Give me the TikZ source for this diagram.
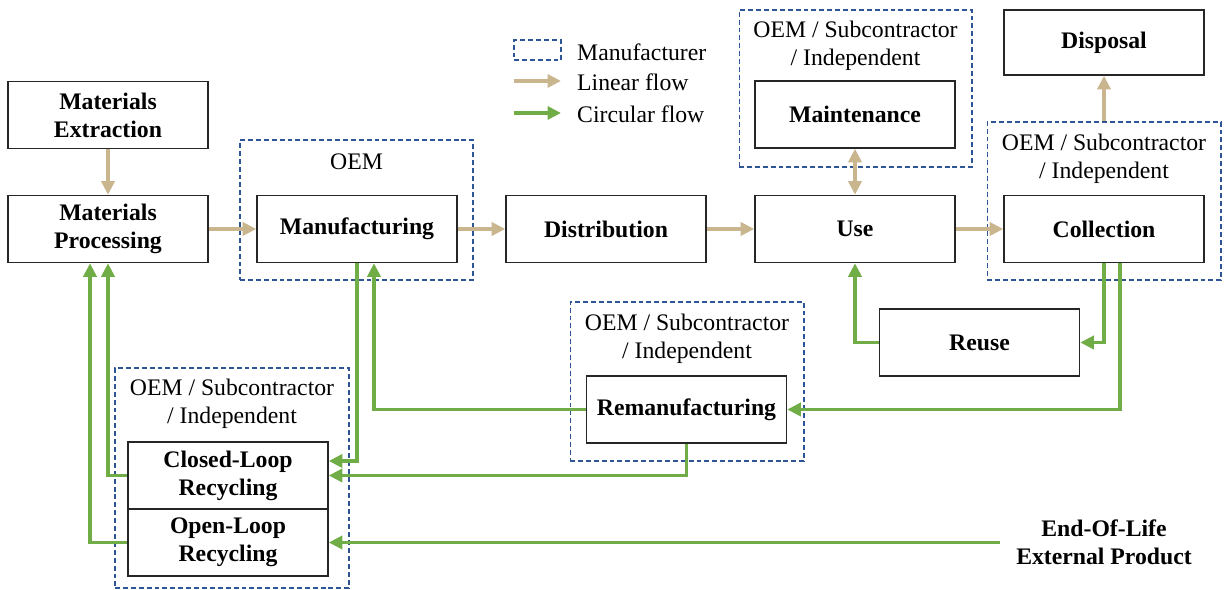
\documentclass[tikz,border=0pt]{standalone}
\usepackage{fontspec}
\setmainfont{Liberation Serif}
\usetikzlibrary{arrows.meta, positioning, calc}
\definecolor{LinearTan}{HTML}{C9B68E}
\definecolor{LoopGreen}{HTML}{70AD47}
\definecolor{FrameBlue}{HTML}{2F5597}
\newcommand{\StageFont}{\bfseries\fontsize{13.5pt}{16pt}\selectfont}
\newcommand{\RoleFont}{\fontsize{13.5pt}{16pt}\selectfont}
\tikzset{
  stagebox/.style={draw=black!85, line width=0.9pt, minimum width=4cm,
    minimum height=1.34cm, align=center, inner sep=2pt, font=\StageFont},
  mfrframe/.style={draw=FrameBlue, line width=0.6pt,
    dash pattern=on 2.8pt off 1.7pt, inner sep=0pt},
  rolelabel/.style={align=center, font=\RoleFont},
  linflow/.style={LinearTan, line width=2pt,
    -{Triangle[length=2.7mm, width=2.6mm]}},
  circflow/.style={LoopGreen, line width=2pt,
    -{Triangle[length=2.7mm, width=2.6mm]}}
}

\begin{document}
\begin{tikzpicture}[x=0.02cm, y=-0.02cm]
  \useasboundingbox (0,0) rectangle (1225,590);
  % manufacturer frames
  \node[mfrframe, minimum width=4.66cm, minimum height=2.8cm] (manufgrp) at (356.5,210) {};
  \node[mfrframe, minimum width=4.66cm, minimum height=3.14cm] (maintgrp) at (855.5,88.5) {};
  \node[mfrframe, minimum width=4.68cm, minimum height=3.16cm] (collgrp) at (1104,201) {};
  \node[mfrframe, minimum width=4.68cm, minimum height=3.18cm] (remangrp) at (687,381.5) {};
  \node[mfrframe, minimum width=4.68cm, minimum height=4.4cm] (recygrp) at (232,478) {};
  \node[rolelabel] (manuflbl) at (356.5,162) {OEM};
  \node[rolelabel] (maintlbl) at (855.5,46) {OEM / Subcontractor\\/ Independent};
  \node[rolelabel] (colllbl) at (1104,159) {OEM / Subcontractor\\/ Independent};
  \node[rolelabel] (remanlbl) at (687,339) {OEM / Subcontractor\\/ Independent};
  \node[rolelabel] (recylbl) at (232,404) {OEM / Subcontractor\\/ Independent};
  % stages
  \node[stagebox] (extr) at (108,115) {Materials\\Extraction};
  \node[stagebox] (proc) at (108,229) {Materials\\Processing};
  \node[stagebox] (manuf) at (357,229) {Manufacturing};
  \node[stagebox] (distr) at (606,229) {Distribution};
  \node[stagebox] (use) at (855,229) {Use};
  \node[stagebox] (coll) at (1104,229) {Collection};
  \node[stagebox] (maint) at (855,114.5) {Maintenance};
  \node[stagebox, minimum height=1.3cm] (disp) at (1104,42.5) {Disposal};
  \node[stagebox] (reuse) at (979.5,342.5) {Reuse};
  \node[stagebox] (reman) at (686.5,409.5) {Remanufacturing};
  \node[stagebox] (closed) at (228,475.5) {Closed-Loop\\Recycling};
  \node[stagebox] (open) at (228,542.5) {Open-Loop\\Recycling};
  \node[font=\StageFont, align=center, inner xsep=9pt] (eol) at (1104,542.5)
    {End-Of-Life\\External Product};
  % linear flow
  \draw[linflow] (extr) -- (proc);
  \draw[linflow] (proc) -- (manuf);
  \draw[linflow] (manuf) -- (distr);
  \draw[linflow] (distr) -- (use);
  \draw[linflow] (use) -- (coll);
  \draw[linflow, {Triangle[length=2.7mm, width=2.6mm]}-{Triangle[length=2.7mm, width=2.6mm]}]
    (maint) -- (use);
  \draw[linflow] (collgrp.north) -- (disp.south);
  % circular flow
  \draw[circflow] (coll.south) |- (reuse.east);
  \draw[circflow] (reuse.west) -| (use.south);
  \draw[circflow] ([xshift=0.32cm]coll.south) |- (reman.east);
  \draw[circflow] (reman.west) -| ([xshift=0.34cm]manuf.south);
  \draw[circflow] (manuf.south) |- ([yshift=0.29cm]closed.east);
  \draw[circflow] (reman.south) |- (closed.east);
  \draw[circflow] (closed.west) -| (proc.south);
  \draw[circflow] (open.west) -| ([xshift=-0.36cm]proc.south);
  \draw[circflow] (eol.west) -- (open.east |- eol.west);
  % legend
  \node[mfrframe, minimum width=0.94cm, minimum height=0.4cm] (keyframe) at (537.5,50) {};
  \coordinate (keylinA) at (514,81);
  \coordinate (keylinB) at (561,81);
  \coordinate (keycircA) at (514,113);
  \coordinate (keycircB) at (561,113);
  \draw[linflow] (keylinA) -- (keylinB);
  \draw[circflow] (keycircA) -- (keycircB);
  \node[rolelabel, anchor=west] (keyframetxt) at (571,52) {Manufacturer};
  \node[rolelabel, anchor=west] (keylintxt) at (571,82) {Linear flow};
  \node[rolelabel, anchor=west] (keycirctxt) at (571,114) {Circular flow};
\end{tikzpicture}
\end{document}
